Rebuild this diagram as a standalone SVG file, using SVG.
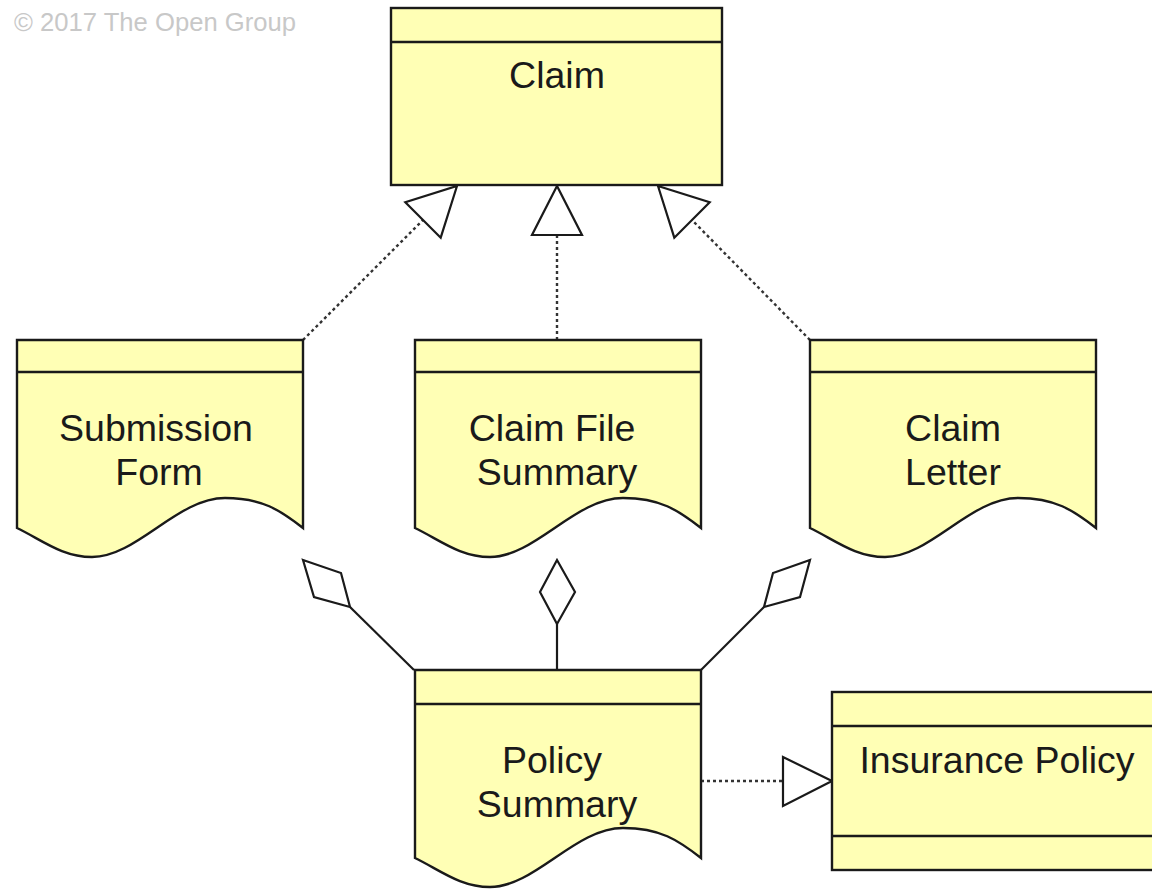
<svg xmlns="http://www.w3.org/2000/svg" width="1152" height="889" viewBox="0 0 1152 889">
<style>
.box{fill:#ffffb5;stroke:#1a1a1a;stroke-width:2.4}
.ln{fill:none;stroke:#1a1a1a;stroke-width:2.4}
.lbl{font-family:"Liberation Sans",Arial,sans-serif;font-size:37.5px;fill:#1a1a1a;text-anchor:middle}
.dot{fill:none;stroke:#333;stroke-width:2.4;stroke-dasharray:3 3}
.sol{fill:none;stroke:#1a1a1a;stroke-width:2.2}
.head{fill:#fff;stroke:#1a1a1a;stroke-width:2.2;stroke-linejoin:miter}
</style>
<defs>
<path id="doc" d="M0,0 H286 V188 C263,170 245,158 208,158 C160,158 120,217 75,217 C45,217 25,200 0,188 Z"/>
</defs>
<rect width="1152" height="889" fill="#fff"/>
<text x="14" y="31" font-family="'Liberation Sans',Arial,sans-serif" font-size="26" fill="#c8c8c8" textLength="282" lengthAdjust="spacingAndGlyphs">© 2017 The Open Group</text>

<g id="connectors">
  <line class="dot" x1="303" y1="340" x2="423" y2="220"/>
  <polygon class="head" points="457,186 440.7,237.7 405.3,202.3"/>
  <line class="dot" x1="557" y1="340" x2="557" y2="235"/>
  <polygon class="head" points="557,186 532,235 582,235"/>
  <line class="dot" x1="810" y1="340" x2="692" y2="220"/>
  <polygon class="head" points="658,186 709.7,202.3 674.3,237.7"/>
  <line class="sol" x1="414" y1="670" x2="350" y2="607"/>
  <polygon class="head" points="303,560 341,573 350,607 314,597"/>
  <line class="sol" x1="557" y1="670" x2="557" y2="624"/>
  <polygon class="head" points="557,560 575,592 557,624 540,592"/>
  <line class="sol" x1="701" y1="670" x2="764" y2="607"/>
  <polygon class="head" points="810,560 800,597 764,607 773,573"/>
  <line class="dot" x1="701" y1="781" x2="783" y2="781"/>
  <polygon class="head" points="832,781 783,757 783,806"/>
</g>

<g id="claim">
  <rect class="box" x="391" y="8" width="331" height="177"/>
  <line class="ln" x1="391" y1="42" x2="722" y2="42"/>
  <text class="lbl" x="557" y="88">Claim</text>
</g>

<g id="submission-form">
  <use href="#doc" class="box" x="17" y="340"/>
  <line class="ln" x1="17" y1="372" x2="303" y2="372"/>
  <text class="lbl" x="156" y="441">Submission</text>
  <text class="lbl" x="159" y="485">Form</text>
</g>

<g id="claim-file-summary">
  <use href="#doc" class="box" x="415" y="340"/>
  <line class="ln" x1="415" y1="372" x2="701" y2="372"/>
  <text class="lbl" x="552" y="441">Claim File</text>
  <text class="lbl" x="557" y="485">Summary</text>
</g>

<g id="claim-letter">
  <use href="#doc" class="box" x="810" y="340"/>
  <line class="ln" x1="810" y1="372" x2="1096" y2="372"/>
  <text class="lbl" x="953" y="441">Claim</text>
  <text class="lbl" x="953" y="485">Letter</text>
</g>

<g id="policy-summary">
  <use href="#doc" class="box" x="415" y="670"/>
  <line class="ln" x1="415" y1="704" x2="701" y2="704"/>
  <text class="lbl" x="552" y="773">Policy</text>
  <text class="lbl" x="557" y="817">Summary</text>
</g>

<g id="insurance-policy">
  <rect class="box" x="832" y="692" width="335" height="178"/>
  <line class="ln" x1="832" y1="726" x2="1167" y2="726"/>
  <line class="ln" x1="832" y1="836" x2="1167" y2="836"/>
  <text class="lbl" x="997" y="773">Insurance Policy</text>
</g>
</svg>
